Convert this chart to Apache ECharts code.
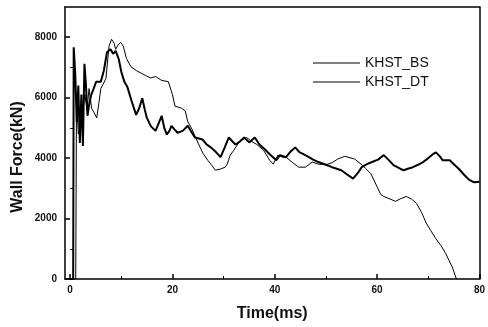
<!DOCTYPE html>
<html>
<head>
<meta charset="utf-8">
<script src="https://cdn.jsdelivr.net/npm/echarts@6/dist/echarts.min.js"></script>
<style>
  html, body { margin: 0; padding: 0; background: #fff; }
  #chart { width: 488px; height: 327px; }
</style>
</head>
<body>
<div id="chart"></div>
<script>
// KHST_BS (thick line)
var timeBS = [0, 0.6, 0.7, 1.0, 1.3, 1.6, 1.9, 2.2, 2.5, 2.8, 3.1, 3.4, 3.7, 4.1, 4.6, 5.1, 6.0, 6.6, 7.2, 7.9,
  8.4, 8.9, 9.5, 10.0, 10.6, 11.2, 12.0, 12.9, 13.5, 14.1, 14.6, 15.0, 15.8, 16.7, 17.3, 17.9, 18.4, 18.9, 19.4, 19.8,
  20.4, 21.0, 22.0, 23.0, 23.6, 24.4, 25.9, 26.7, 27.5, 28.5, 29.4, 30.2, 31.0, 32.3, 33.2, 34.0, 35.0, 36.1, 37.0, 38.0,
  39.0, 40.3, 41.0, 42.2, 43.0, 44.0, 44.8, 45.6, 46.5, 47.5, 48.5, 50.0, 51.2, 53.0, 54.2, 55.3, 56.2, 57.0, 58.0, 59.0,
  60.2, 61.3, 62.2, 63.2, 64.6, 65.2, 66.0, 67.0, 68.0, 69.0, 70.0, 70.9, 71.5, 72.3, 72.8, 74.2, 75.0, 76.0, 77.0, 78.0,
  79.0, 80.0]
var forceBS = [0, 0, 7670, 6800, 5200, 6400, 4500, 6100, 4400, 7120, 6400, 5400, 5750, 6080, 6300, 6530, 6530, 6900, 7500, 7600,
  7450, 7550, 7280, 6860, 6530, 6350, 5900, 5430, 5650, 5980, 5600, 5330, 5050, 4900, 5150, 5400, 5000, 4780, 4900, 5070,
  4950, 4840, 4900, 5070, 4900, 4680, 4615, 4450, 4355, 4200, 4030, 4350, 4680, 4450, 4550, 4680, 4520, 4680, 4450, 4300,
  4130, 3930, 4100, 4030, 4200, 4355, 4200, 4130, 4050, 3950, 3870, 3780, 3700, 3600, 3450, 3320, 3500, 3700, 3800, 3870,
  3950, 4100, 3950, 3770, 3640, 3600, 3650, 3700, 3780, 3870, 4000, 4130, 4190, 4050, 3930, 3930, 3800, 3640, 3450, 3280,
  3200, 3220]

// KHST_DT (thin line)
var timeDT = [0, 1.1, 1.25, 1.6, 2.0, 2.4, 2.9, 3.3, 3.7, 4.2, 4.7, 5.2, 5.6, 6.0, 7.0, 7.6, 8.1, 8.6, 8.9, 9.4,
  9.9, 10.4, 11.0, 11.9, 13.0, 14.0, 14.8, 15.7, 16.7, 17.9, 19.2, 20.0, 20.5, 21.8, 22.5, 23.0, 23.7, 25.0, 26.0, 26.9,
  27.5, 28.4, 29.4, 30.3, 30.7, 31.3, 32.0, 33.2, 34.5, 35.5, 36.5, 37.8, 39.0, 39.7, 40.6, 41.5, 42.2, 43.5, 44.7, 46.0,
  47.3, 48.5, 50.0, 51.2, 52.3, 53.7, 55.6, 57.1, 57.8, 58.8, 60.0, 60.7, 61.3, 62.5, 63.6, 64.5, 65.7, 66.7, 67.7, 68.7,
  69.6, 70.5, 71.5, 72.5, 73.4, 74.1, 74.7, 75.5]
var forceDT = [0, 0, 6000, 4800, 5000, 5560, 6100, 5600, 6300, 5650, 5500, 5330, 5800, 6300, 6630, 7700, 7930, 7800, 7600, 7750,
  7830, 7700, 7300, 7020, 6890, 6800, 6730, 6650, 6700, 6570, 6530, 6100, 5720, 5650, 5560, 5200, 5000, 4500, 4150, 3930,
  3800, 3600, 3640, 3700, 3800, 4100, 4260, 4580, 4680, 4550, 4450, 4260, 3930, 3800, 4100, 4030, 4030, 3850, 3700, 3700,
  3870, 3800, 3780, 3850, 3970, 4060, 3970, 3770, 3650, 3480, 3050, 2800, 2730, 2650, 2570, 2650, 2730, 2650, 2500, 2200,
  1850, 1600, 1330, 1100, 845, 600, 390, 0]

var xMajor = [0, 20, 40, 60, 80]
var xMinor = [10, 30, 50, 70]
var yMajor = [0, 2000, 4000, 6000, 8000]
var yMinor = [1000, 3000, 5000, 7000]

function zip(a, b) {
  var out = []
  for (var i = 0; i < a.length; i++) out.push([a[i], b[i]])
  return out
}

var chart = echarts.init(document.getElementById('chart'))
var labelFont = { fontFamily: 'Liberation Sans', fontWeight: 'bold', fontSize: 10, color: '#111' }
var plain = function (v) { return String(v) }

// frame-only axis (top / right border)
function frameAxis(pos) {
  return {
    type: 'value', min: pos === 'top' ? -1 : 0, max: pos === 'top' ? 80 : 9000, position: pos,
    axisLine: { show: true, onZero: false, lineStyle: { color: '#000', width: 1.5 } },
    axisTick: { show: false }, axisLabel: { show: false }, splitLine: { show: false }
  }
}

chart.setOption({
  animation: false,
  grid: { left: 65, right: 1, top: 7, bottom: 43 },
  legend: {
    orient: 'vertical',
    left: 308,
    top: 51,
    icon: 'rect',
    itemWidth: 47,
    itemHeight: 1,
    itemGap: 5,
    textStyle: { fontFamily: 'Liberation Sans', fontSize: 14, color: '#111' },
    data: ['KHST_BS', 'KHST_DT']
  },
  graphic: [{
    type: 'text',
    x: 18,
    y: 157,
    rotation: Math.PI / 2,
    style: {
      text: 'Wall Force(kN)',
      fontFamily: 'Liberation Sans', fontWeight: 'bold', fontSize: 16, fill: '#111',
      align: 'center', verticalAlign: 'middle'
    }
  }],
  xAxis: [
    {
      type: 'value',
      min: -1,
      max: 80,
      name: 'Time(ms)',
      nameLocation: 'middle',
      nameGap: 27,
      nameTextStyle: { fontFamily: 'Liberation Sans', fontWeight: 'bold', fontSize: 16, color: '#111' },
      axisLine: { onZero: false, lineStyle: { color: '#000', width: 1.5 } },
      axisTick: { inside: true, length: 5, customValues: xMajor, lineStyle: { color: '#000', width: 1.5 } },
      axisLabel: Object.assign({ margin: 6, customValues: xMajor, formatter: plain }, labelFont),
      splitLine: { show: false }
    },
    {
      type: 'value',
      min: -1,
      max: 80,
      position: 'bottom',
      axisLine: { show: false },
      axisTick: { inside: true, length: 3, customValues: xMinor, lineStyle: { color: '#000', width: 1 } },
      axisLabel: { show: false },
      splitLine: { show: false }
    },
    frameAxis('top')
  ],
  yAxis: [
    {
      type: 'value',
      min: 0,
      max: 9000,
      axisLine: { onZero: false, lineStyle: { color: '#000', width: 1.5 } },
      axisTick: { inside: true, length: 5, customValues: yMajor, lineStyle: { color: '#000', width: 1.5 } },
      axisLabel: Object.assign({ margin: 8, customValues: yMajor, formatter: plain }, labelFont),
      splitLine: { show: false }
    },
    {
      type: 'value',
      min: 0,
      max: 9000,
      position: 'left',
      axisLine: { show: false },
      axisTick: { inside: true, length: 3, customValues: yMinor, lineStyle: { color: '#000', width: 1 } },
      axisLabel: { show: false },
      splitLine: { show: false }
    },
    frameAxis('right')
  ],
  series: [
    {
      name: 'KHST_BS',
      type: 'line',
      symbol: 'none',
      color: '#000',
      lineStyle: { color: '#000', width: 2 },
      data: zip(timeBS, forceBS)
    },
    {
      name: 'KHST_DT',
      type: 'line',
      symbol: 'none',
      color: '#000',
      lineStyle: { color: '#000', width: 1 },
      data: zip(timeDT, forceDT)
    }
  ]
})
</script>
</body>
</html>
